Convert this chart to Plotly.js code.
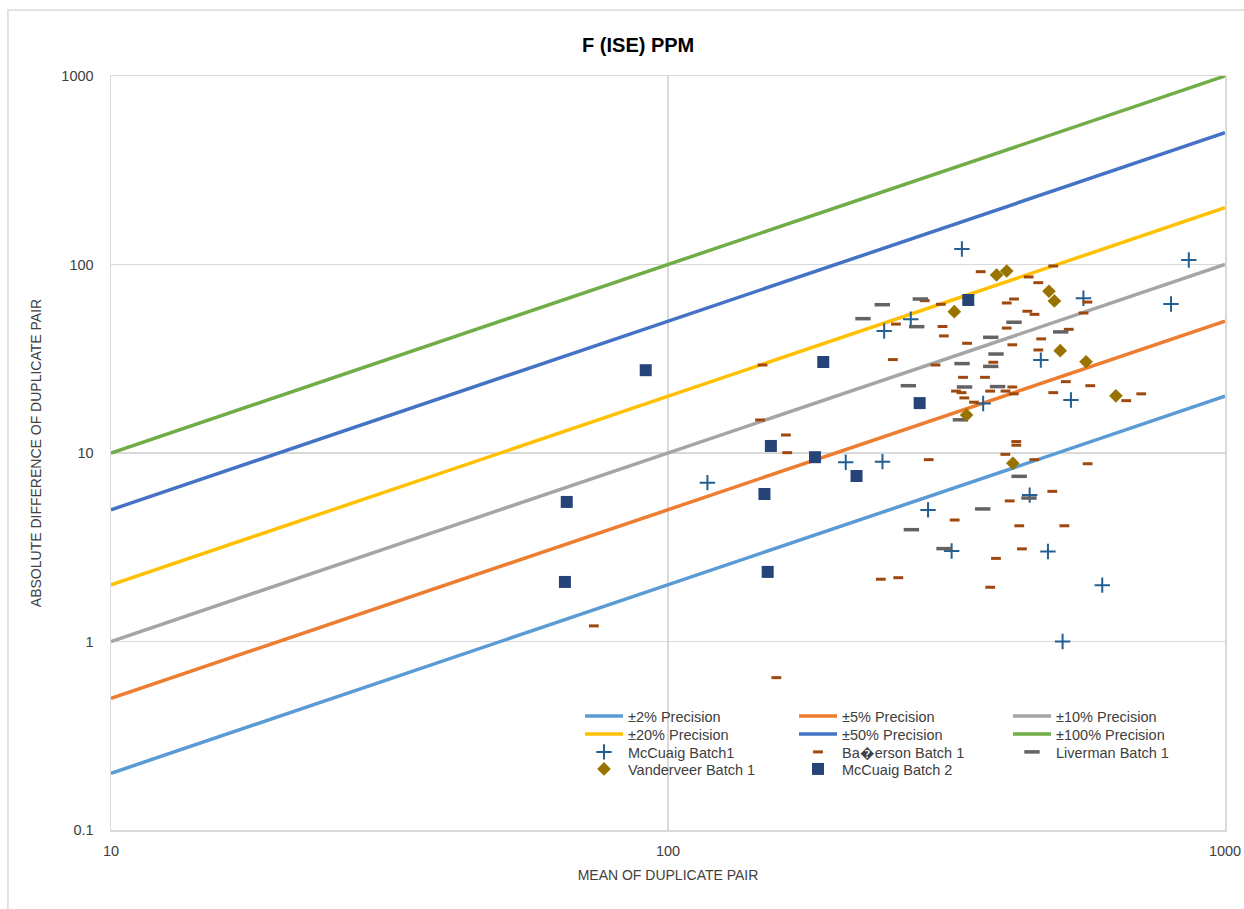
<!DOCTYPE html>
<html>
<head>
<meta charset="utf-8">
<script src="https://cdn.plot.ly/plotly-3.0.1.min.js"></script>
<style>html,body{margin:0;padding:0;background:#fff;}#chart{width:1244px;height:909px;}</style>
</head>
<body>
<div id="chart"></div>
<script>
// Precision reference lines (x from 10 to 1000)
var lineX = [10, 1000];
var prec2Y = [0.2, 20];
var prec5Y = [0.5, 50];
var prec10Y = [1, 100];
var prec20Y = [2, 200];
var prec50Y = [5, 500];
var prec100Y = [10, 1000];

// McCuaig Batch1
var mccuaig1X = [117.7, 208.5, 244.4, 272.8, 337, 861, 557, 800, 467, 368, 529, 242.7, 293, 323, 446, 481, 602, 511];
var mccuaig1Y = [6.96, 8.93, 44.4, 51.2, 120.8, 105.6, 66.2, 61.7, 31.1, 18.3, 19.1, 9.0, 4.99, 3.02, 5.98, 3.0, 1.99, 1.0];

// Ba?erson Batch 1
var batX = [147.8,146.3,162.8,163.7,73.6,156.5,
  256.6,253.4,302.2,289,308.9,311.1,312.8,344.3,338.6,328.9,336.5,340.4,
  364.2,491.7,444.2,462.2,418,405.6,566.3,441.7,455,557.2,405.6,524.1,467.7,415.1,462.2,383.6,370.8,378.8,403.6,415.1,417.6,354.3,517.9,573,491.7,664.8,707.3,
  422,422,
  403.3,293.8,454.6,566.7,489.7,410.7,327.1,427.2,514.7,432,388,241,259.1,378.9];
var batY = [29.3,14.97,12.46,10.04,1.21,0.643,
  48.3,31.3,29.3,64.3,61.5,46.9,41.8,38.2,25.2,21.3,20.9,19.6,
  91.6,98.2,85.9,80.1,65.6,62.5,63.2,56.5,54.4,55.3,46.0,45.3,40.3,37.5,35.2,30.3,25.2,21.3,21.3,22.4,20.6,18.6,23.9,22.75,20.9,18.95,20.6,
  11.5,11.0,
  9.84,9.22,9.22,8.77,6.26,5.57,4.41,4.11,4.11,3.10,2.76,2.14,2.18,1.94];

// Liverman Batch 1
var livX = [223.9, 242.5, 283.8, 279.6, 270.1, 337.2, 340.7, 418, 379.7, 507, 388, 379.7, 390.5, 335, 427, 444.7, 367.3, 273.5, 313];
var livY = [51.6, 61.2, 65.6, 46.8, 22.75, 29.8, 22.4, 49.4, 41.1, 43.9, 33.5, 28.8, 22.5, 15.0, 7.52, 5.77, 5.05, 3.92, 3.11];

// Vanderveer Batch 1
var vanX = [389, 405.6, 326.6, 483, 494, 506, 563, 637, 343.6, 416];
var vanY = [88, 92.4, 56.2, 72.1, 64.0, 34.9, 30.5, 20.1, 15.9, 8.82];

// McCuaig Batch 2
var mccuaig2X = [65.3, 65.8, 91.2, 149, 153, 151, 183.6, 190, 218, 283, 346];
var mccuaig2Y = [2.07, 5.5, 27.5, 6.06, 10.9, 2.34, 9.5, 30.4, 7.55, 18.4, 64.8];

var xTicks = [10, 100, 1000];
var xTickText = ['10', '100', '1000'];
var yTicks = [0.1, 1, 10, 100, 1000];
var yTickText = ['0.1', '1', '10', '100', '1000'];

function lineTrace(name, y, color, legend) {
  return {x: lineX, y: y, name: name, mode: 'lines', type: 'scatter',
    line: {color: color, width: 3.5}, legend: legend, hoverinfo: 'skip'};
}

var traces = [
  lineTrace('\u00b12% Precision', prec2Y, '#5B9BD5', 'legend'),
  lineTrace('\u00b15% Precision', prec5Y, '#ED7D31', 'legend'),
  lineTrace('\u00b110% Precision', prec10Y, '#A5A5A5', 'legend'),
  lineTrace('\u00b120% Precision', prec20Y, '#FFC000', 'legend2'),
  lineTrace('\u00b150% Precision', prec50Y, '#4472C4', 'legend2'),
  lineTrace('\u00b1100% Precision', prec100Y, '#70AD47', 'legend2'),
  {x: mccuaig1X, y: mccuaig1Y, name: 'McCuaig Batch1', mode: 'markers', type: 'scatter', legend: 'legend3',
    marker: {symbol: 'cross-thin', size: 11, line: {color: '#255E91', width: 2}, color: '#255E91'}},
  {x: batX, y: batY, name: 'Ba\uFFFDerson Batch 1', mode: 'markers', type: 'scatter', legend: 'legend3',
    marker: {symbol: 'line-ew', size: 7, line: {color: '#9E480E', width: 3}, color: '#9E480E'}},
  {x: livX, y: livY, name: 'Liverman Batch 1', mode: 'markers', type: 'scatter', legend: 'legend3',
    marker: {symbol: 'line-ew', size: 11, line: {color: '#636363', width: 3.5}, color: '#636363'}},
  {x: vanX, y: vanY, name: 'Vanderveer Batch 1', mode: 'markers', type: 'scatter', legend: 'legend4',
    marker: {symbol: 'diamond', size: 10.5, color: '#997300', line: {width: 0}}},
  {x: mccuaig2X, y: mccuaig2Y, name: 'McCuaig Batch 2', mode: 'markers', type: 'scatter', legend: 'legend4',
    marker: {symbol: 'square', size: 12, color: '#264478', line: {width: 0}}}
];

var legFont = {family: 'Liberation Sans, Arial, sans-serif', size: 14.5, color: '#404040'};
function legendCfg(y) {
  return {x: 0.4210, xanchor: 'left', y: y, yanchor: 'top', orientation: 'h',
    bgcolor: 'rgba(0,0,0,0)', borderwidth: 0, font: legFont, itemwidth: 38,
    entrywidth: 161, entrywidthmode: 'pixels', traceorder: 'normal'};
}

var axisFont = {family: 'Liberation Sans, Arial, sans-serif', size: 14.5, color: '#404040'};
var titleFont = {family: 'Liberation Sans, Arial, sans-serif', size: 14, color: '#404040'};
var layout = {
  width: 1244, height: 909,
  margin: {l: 111, r: 19, t: 76, b: 79},
  paper_bgcolor: '#ffffff', plot_bgcolor: '#ffffff',
  showlegend: true,
  title: {text: '<b>F (ISE) PPM</b>', x: 0.513, xref: 'container', xanchor: 'center',
    y: 0.951, yref: 'container', yanchor: 'middle',
    font: {family: 'Liberation Sans, Arial, sans-serif', size: 20, color: '#000000'}},
  xaxis: {type: 'log', range: [1, 3], tickvals: xTicks, ticktext: xTickText,
    showgrid: true, gridcolor: '#D9D9D9', gridwidth: 1.5, zeroline: false,
    showline: true, mirror: true, linecolor: '#D9D9D9', linewidth: 1.5,
    ticks: '', tickfont: axisFont, ticklabelstandoff: 7,
    title: {text: 'MEAN OF DUPLICATE PAIR', standoff: 12, font: titleFont}},
  yaxis: {type: 'log', range: [-1, 3], tickvals: yTicks, ticktext: yTickText,
    showgrid: true, gridcolor: '#D9D9D9', gridwidth: 1.5, zeroline: false,
    showline: true, mirror: true, linecolor: '#D9D9D9', linewidth: 1.5,
    ticks: '', tickfont: axisFont, ticklabelstandoff: 13,
    title: {text: 'ABSOLUTE DIFFERENCE OF DUPLICATE PAIR', standoff: 16, font: titleFont}},
  legend: legendCfg(0.1724),
  legend2: legendCfg(0.1485),
  legend3: legendCfg(0.1247),
  legend4: legendCfg(0.1021),
  shapes: [{type: 'rect', xref: 'paper', yref: 'paper', x0: -0.0925, x1: 1.03, y0: -0.2, y1: 1.0875,
    line: {color: '#D9D9D9', width: 1.5}, fillcolor: 'rgba(0,0,0,0)', layer: 'below'}]
};

Plotly.newPlot('chart', traces, layout, {displayModeBar: false, staticPlot: true});
</script>
</body>
</html>
